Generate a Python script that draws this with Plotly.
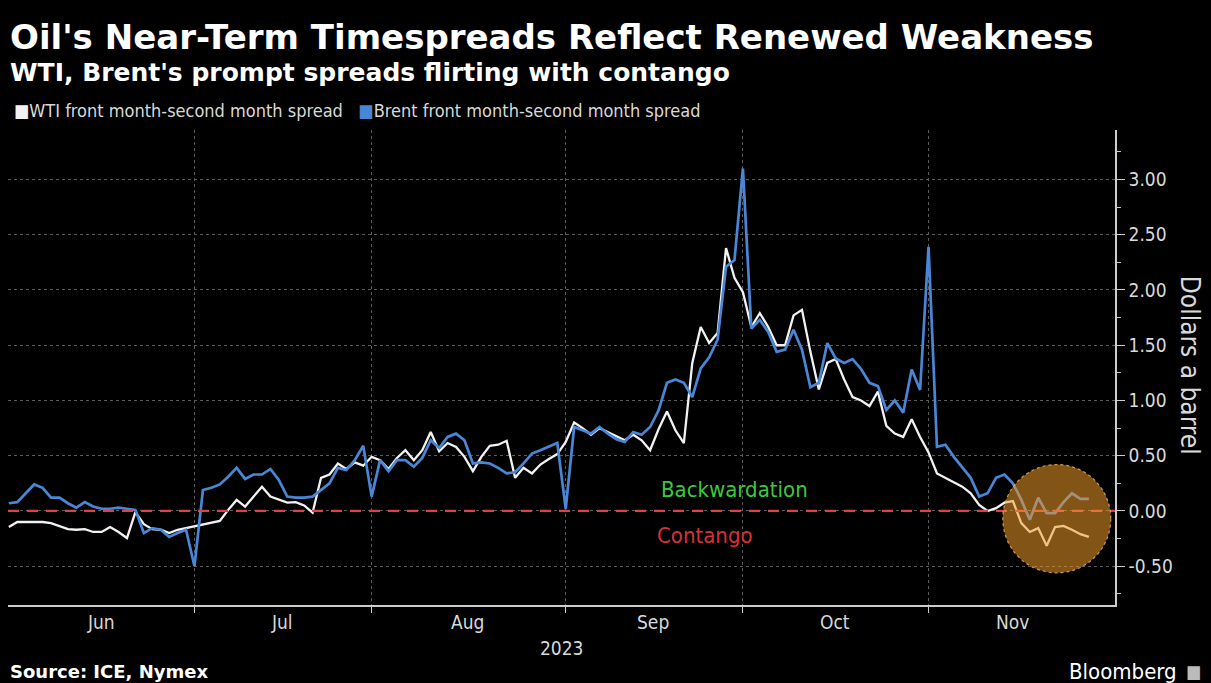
import pandas as pd
import plotly.graph_objects as go

# ---------------- data ----------------
dates = pd.bdate_range("2023-06-01", "2023-11-28")  # trading days, evenly spaced on the chart

wti = [-0.145, -0.10, -0.10, -0.10, -0.10, -0.11, -0.14, -0.165, -0.17, -0.165,
       -0.19, -0.19, -0.145, -0.19, -0.245, -0.01, -0.12, -0.165, -0.17, -0.20,
       -0.17, -0.155, -0.135, -0.12, -0.105, -0.09, 0.01, 0.10, 0.04, 0.13,
       0.22, 0.13, 0.10, 0.075, 0.08, 0.05, -0.015, 0.30, 0.33, 0.43,
       0.38, 0.44, 0.41, 0.49, 0.46, 0.38, 0.48, 0.55, 0.46, 0.55,
       0.715, 0.54, 0.615, 0.58, 0.49, 0.36, 0.49, 0.59, 0.60, 0.635,
       0.30, 0.39, 0.34, 0.42, 0.47, 0.515, 0.625, 0.80, 0.75, 0.69,
       0.75, 0.715, 0.68, 0.64, 0.69, 0.64, 0.55, 0.74, 0.90, 0.73,
       0.615, 1.34, 1.665, 1.52, 1.61, 2.38, 2.11, 1.98, 1.665, 1.79,
       1.665, 1.50, 1.50, 1.77, 1.82, 1.44, 1.10, 1.34, 1.375, 1.19,
       1.03, 1.00, 0.95, 1.08, 0.77, 0.70, 0.67, 0.83, 0.67, 0.53,
       0.34, 0.30, 0.26, 0.22, 0.16, 0.055, 0.0, 0.025, 0.075, 0.09,
       -0.11, -0.19, -0.155, -0.315, -0.145, -0.135, -0.17, -0.21, -0.235]

brent = [0.07, 0.08, 0.16, 0.24, 0.21, 0.12, 0.12, 0.07, 0.03, 0.08,
         0.04, 0.02, 0.02, 0.03, 0.02, 0.01, -0.20, -0.155, -0.17, -0.235,
         -0.20, -0.17, -0.50, 0.19, 0.21, 0.24, 0.31, 0.39, 0.29, 0.33,
         0.33, 0.38, 0.28, 0.13, 0.12, 0.12, 0.13, 0.19, 0.25, 0.39,
         0.37, 0.46, 0.59, 0.13, 0.46, 0.36, 0.46, 0.46, 0.40, 0.48,
         0.64, 0.57, 0.67, 0.70, 0.64, 0.43, 0.44, 0.43, 0.39, 0.34,
         0.35, 0.43, 0.52, 0.55, 0.58, 0.615, 0.02, 0.76, 0.73, 0.70,
         0.76, 0.70, 0.65, 0.625, 0.715, 0.69, 0.76, 0.91, 1.16, 1.19,
         1.16, 1.03, 1.29, 1.39, 1.55, 2.21, 2.27, 3.10, 1.65, 1.73,
         1.62, 1.44, 1.46, 1.64, 1.46, 1.12, 1.16, 1.52, 1.38, 1.34,
         1.375, 1.285, 1.16, 1.13, 0.915, 1.00, 0.89, 1.28, 1.095, 2.39,
         0.58, 0.60, 0.49, 0.39, 0.30, 0.13, 0.16, 0.30, 0.33, 0.25,
         0.10, -0.08, 0.12, -0.02, -0.02, 0.08, 0.16, 0.11, 0.11]

y_ticks = [-0.5, 0.0, 0.5, 1.0, 1.5, 2.0, 2.5, 3.0]
series_names = ["WTI front month-second month spread", "Brent front month-second month spread"]
title = "Oil's Near-Term Timespreads Reflect Renewed Weakness"
subtitle = "WTI, Brent's prompt spreads flirting with contango"
source = "Source: ICE, Nymex"
highlight_range = (dates[-11], dates[-1])   # highlighted recent period (circle)

# ---------------- styling ----------------
BG = "black"
WHITE = "#f2f2f2"
BLUE = "#4a86d6"
GRID = "#5a5a5a"
TXT = "#d9d9d9"
COND = "DejaVu Sans Condensed, DejaVu Sans, sans-serif"
BOLD = "DejaVu Sans, sans-serif"

idx = list(range(len(dates)))
months = pd.Series(idx, index=dates)
groups = months.groupby([dates.year, dates.month])
month_start_idx = [g.iloc[0] for _, g in groups][1:]
month_mid_idx = [(g.iloc[0] + g.iloc[-1]) / 2 for _, g in groups]
month_names = [dates[g.iloc[0]].strftime("%b") for _, g in groups]

fig = go.Figure()
fig.add_trace(go.Scatter(x=idx, y=wti, mode="lines", name=series_names[0],
                         line=dict(color=WHITE, width=2.3), showlegend=False))
fig.add_trace(go.Scatter(x=idx, y=brent, mode="lines", name=series_names[1],
                         line=dict(color=BLUE, width=2.7), showlegend=False))

# zero line (contango / backwardation divide)
fig.add_shape(type="line", xref="paper", x0=0, x1=1, yref="y", y0=0, y1=0,
              line=dict(color="#e0404c", width=2.2, dash="11px,8px"), layer="above")

# highlight circle
h0 = idx[list(dates).index(highlight_range[0])]
h1 = idx[list(dates).index(highlight_range[1])]
fig.add_shape(type="circle", xref="x", yref="y",
              x0=h0 - 0.2, x1=h1 + 2.6, y0=-0.56, y1=0.42,
              fillcolor="rgba(240,155,40,0.54)",
              line=dict(color="rgba(240,180,90,0.8)", width=1.2, dash="dot"),
              layer="above")

x_range = [-0.1, len(dates) + 2.1]

fig.update_layout(
    width=1211, height=683,
    paper_bgcolor=BG, plot_bgcolor=BG,
    margin=dict(l=8, r=96, t=130, b=78),
    font=dict(family=COND, color=TXT, size=16),
    xaxis=dict(range=x_range, tickmode="array", tickvals=month_start_idx,
               ticktext=[""] * len(month_start_idx),
               showgrid=True, gridcolor=GRID, griddash="dot", gridwidth=1,
               ticks="outside", ticklen=6, tickcolor="#cccccc",
               showline=True, linecolor="#cccccc", linewidth=1.5,
               zeroline=False, fixedrange=True),
    yaxis=dict(range=[-0.851, 3.448], side="right", tickmode="array",
               tickvals=y_ticks, ticktext=[f"{v:.2f}" for v in y_ticks],
               tickfont=dict(size=19, color=TXT, family=COND),
               showgrid=True, gridcolor=GRID, griddash="dot", gridwidth=1,
               ticks="outside", ticklen=8, tickcolor="#cccccc",
               minor=dict(dtick=0.25, tick0=0, ticks="outside", ticklen=4,
                          tickcolor="#cccccc", showgrid=False),
               showline=True, linecolor="#cccccc", linewidth=1.5,
               zeroline=False, fixedrange=True),
)

ann = []
# month labels
for m, name in zip(month_mid_idx, month_names):
    ann.append(dict(x=m + 0.4, y=-0.036, xref="x", yref="paper", text=name, showarrow=False,
                    font=dict(size=19, color=TXT, family=COND), yanchor="middle"))
ann.append(dict(x=0.5, y=-0.091, xref="paper", yref="paper", text="2023", showarrow=False,
                font=dict(size=19, color=TXT, family=COND), yanchor="middle"))
# titles
ann.append(dict(x=0, y=1.196, xref="paper", yref="paper", xanchor="left", yanchor="middle",
                text=f"<b>{title}</b>", showarrow=False,
                font=dict(size=34, color="white", family=BOLD)))
ann.append(dict(x=0, y=1.122, xref="paper", yref="paper", xanchor="left", yanchor="middle",
                text=f"<b>{subtitle}</b>", showarrow=False,
                font=dict(size=25, color="white", family=BOLD)))
# legend
leg = (f"<span style='color:{WHITE}'>■</span>{series_names[0]}"
       f"&nbsp;&nbsp;&nbsp;<span style='color:{BLUE}'>■</span>{series_names[1]}")
ann.append(dict(x=0.004, y=1.04, xref="paper", yref="paper", xanchor="left", yanchor="middle",
                text=leg, showarrow=False, font=dict(size=18, color=TXT, family=COND)))
# region labels
ann.append(dict(x=86, y=0.19, xref="x", yref="y", text="Backwardation", showarrow=False,
                font=dict(size=22, color="#3cc83c", family=COND)))
ann.append(dict(x=82.5, y=-0.22, xref="x", yref="y", text="Contango", showarrow=False,
                font=dict(size=22, color="#d8303a", family=COND)))
# y-axis title
ann.append(dict(x=1.068, y=0.505, xref="paper", yref="paper", xanchor="center", yanchor="middle",
                text="Dollars a barrel", textangle=90, showarrow=False,
                font=dict(size=26, color=TXT, family=COND)))
# footer
ann.append(dict(x=0, y=-0.141, xref="paper", yref="paper", xanchor="left", yanchor="middle",
                text=f"<b>{source}</b>", showarrow=False,
                font=dict(size=18, color="white", family=BOLD)))
ann.append(dict(x=1.058, y=-0.141, xref="paper", yref="paper", xanchor="right", yanchor="middle",
                text="Bloomberg", showarrow=False,
                font=dict(size=22, color="white", family=COND)))
ann.append(dict(x=1.062, y=-0.141, xref="paper", yref="paper", xanchor="left", yanchor="middle",
                text="■", showarrow=False,
                font=dict(size=18, color="#bbbbbb", family=COND)))
fig.update_layout(annotations=ann)

fig.write_html("out.html", config={"displayModeBar": False},
               post_script="document.body.style.margin='0';document.body.style.overflow='hidden';")
